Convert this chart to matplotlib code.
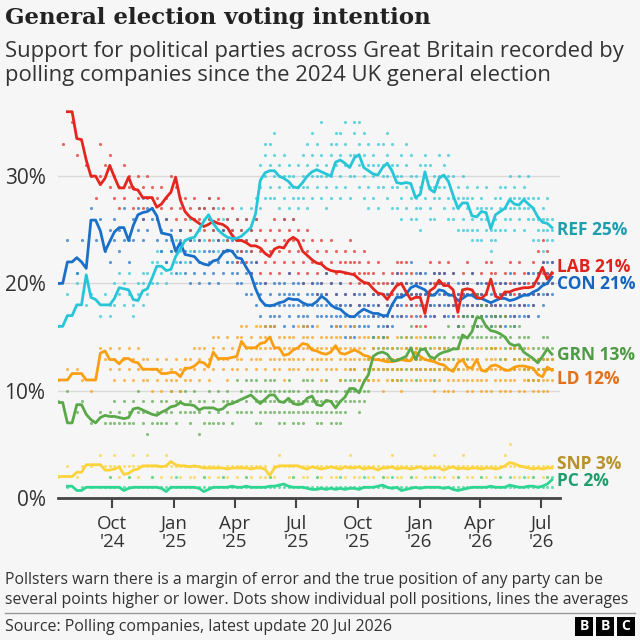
import matplotlib
matplotlib.use("Agg")
import matplotlib.pyplot as plt
import matplotlib.transforms as mtransforms
from matplotlib.patches import Rectangle
from matplotlib.lines import Line2D
import numpy as np
import pandas as pd

# ----------------
# Data (weekly averages)
# ----------------
FIRST_WEEK = "2024-07-12"
nan = np.nan

REF = [16, 16, 17, 17, 18, 18, 20.8, 18.7, 18.5, 18,
       18, 18, 18.6, 19.6, 19.5, 19.4, 18.5, 18.4, 19.3, 19.5,
       20.5, 21.6, 21.6, 21.2, 21.3, 22.5, 23.2, 24, 24.2, 24.3,
       25, 25.8, 26.4, 25.6, 25, 24.6, 24.3, 24.2, 24.2, 24.4,
       24.8, 25.2, 26.5, 29.6, 30.3, 30.5, 30.5, 30, 29.8, 29.5,
       29, 28.9, 29.4, 30, 30.4, 30.6, 30.4, 30.2, 30, 31.3,
       31.5, 31.2, 30.8, 31.7, 32, 30.8, 30.5, 30.2, 30.1, 30.8,
       31.2, 30.5, 29.4, 29.3, 29.4, 29.3, 28, 28.3, 30.4, 28.8,
       28.5, 29.8, 30.1, 29.5, 28.2, 27, 27.5, 27.5, 26.3, 26.2,
       26.7, 26.6, 25.1, 26.4, 26.7, 27, 27.8, 27.4, 27.3, 27.8,
       27.4, 27, 26.2, 25.7, 25.6, 25.2]

LAB = [nan, nan, 36, 36, 33.5, 33.4, 31.5, 30, 30, 29.2,
       29.8, 31, 29.9, 28.9, 28.9, 29.9, 28.8, 28.7, 28, 28,
       28, 27.1, 27.4, 28, 28.5, 29.9, 27.8, 26.7, 26.2, 25.9,
       25.6, 25.3, 25.5, 25.8, 25.6, 25.5, 25.2, 24.5, 24, 24,
       23.8, 23.5, 23.5, 23.3, 22.8, 22.5, 23.2, 23.4, 23.3, 24,
       24.3, 24, 23, 22.6, 22.2, 21.9, 21.8, 21.4, 21.2, 21.1,
       21.1, 21, 20.9, 20.8, 20.4, 20.1, 20, 19.5, 19.1, 19,
       18.5, 19.2, 19.8, 20, 19.2, 18.5, 18.7, 18.7, 17.2, 19.3,
       19.6, 20.3, 19.8, 19.8, 19.4, 17.3, 19.4, 19.5, 19.4, 18.7,
       18.6, 19, 20.4, 18.8, 18.6, 19.2, 19.2, 19.4, 19.5, 19.6,
       19.6, 19.7, 20.5, 21.5, 20.4, 21]

CON = [20, 20, 22, 22, 22.4, 22, 21.4, 25.9, 25.9, 24.9,
       23, 23.9, 24.8, 25.2, 25.2, 24, 25.4, 26.4, 26.6, 26.7,
       27, 26.3, 24.7, 24.6, 24.5, 23, 23.8, 22.7, 22.6, 22.5,
       22, 21.8, 21.7, 22.1, 22.2, 22.8, 23.1, 23, 22.4, 22.3,
       21.5, 20.8, 19.5, 18.5, 18, 17.9, 18, 18.2, 18.3, 18.6,
       18.5, 18.5, 18.2, 18, 18, 18.3, 18.8, 18.5, 18, 17.7,
       17.6, 17.2, 16.9, 16.9, 17.3, 17.6, 17.4, 17.2, 17.2, 17,
       17, 18, 18.7, 18.7, 19, 19.6, 19.8, 19.6, 19.4, 18.9,
       18.9, 19.4, 19.3, 18.9, 18.9, 18.4, 18.6, 18.9, 18.9, 18.6,
       18.6, 18.4, 18.2, 18.4, 18.6, 18.6, 18.4, 18.5, 18.7, 18.9,
       18.9, 19.2, 19.4, 19.8, 20, 20.6]

GRN = [8.9, 8.9, 7, 7, 8.7, 8.7, 7.8, 7.3, 7, 7.5,
       7.7, 7.6, 7.6, 7.5, 7.4, 7.5, 8.3, 8.4, 8.2, 8,
       7.8, 7.7, 8, 8.2, 8.5, 8.6, 8.9, 8.7, 8.7, 8.6,
       8.2, 8.4, 8.4, 8.4, 8.2, 8.3, 8.7, 8.8, 9, 9.2,
       9.4, 9.6, 9.2, 8.8, 9.2, 9.6, 9.6, 9, 8.9, 9.3,
       8.8, 8.7, 8.8, 9.3, 9.5, 8.7, 8.6, 9.1, 9, 8.4,
       9, 9.4, 10.2, 10.2, 9.8, 10.8, 11.5, 13.2, 13.5, 13.6,
       13.4, 12.8, 12.8, 13, 13.2, 14, 12.9, 13.8, 13.9, 13.2,
       13, 13.4, 13.6, 13.7, 13.9, 13.9, 15.2, 14.9, 15.5, 16.8,
       16.8, 16, 15.6, 15.5, 15.3, 15, 14.4, 14.2, 14.3, 13.6,
       13.3, 13, 12.6, 13.2, 13.9, 13.4]

LD = [11, 11, 11, 11.6, 11.6, 11.6, 11, 11, 11, 13.5,
      13.7, 12.9, 12.9, 12.5, 13, 13, 12.7, 12.6, 12, 12,
      12, 12, 11.6, 11.6, 11.7, 11.7, 11.3, 12.1, 12.1, 12.3,
      12.7, 12.6, 12.2, 13.6, 13, 13, 13, 13.1, 13.2, 14.6,
      14, 14, 14, 14.4, 14.5, 15, 14, 14, 13.3, 13.4,
      13.8, 14, 14.4, 14.3, 13.8, 13.7, 13.5, 13.4, 13.6, 14.2,
      13.5, 13.4, 13.6, 13.8, 13.6, 13.3, 13.2, 12.9, 12.9, 12.8,
      12.7, 12.7, 12.8, 12.9, 12.8, 12.8, 13.6, 13.2, 12.9, 12.8,
      12.7, 12.5, 12.4, 12, 11.8, 12.6, 12.9, 12.2, 12.1, 12.9,
      11.9, 11.8, 12.3, 12.4, 12.2, 11.9, 11.9, 12.2, 12.3, 12.3,
      12.2, 12.1, 11.5, 11.3, 12.2, 11.9]

SNP = [2, 2, 2, 2, 2.4, 2.4, 3.1, 3.1, 3.1, 3.1,
       2.6, 2.6, 2.7, 2.9, 2.2, 2.3, 2.6, 2.7, 3, 3,
       3, 3, 2.9, 3, 3.4, 3.1, 3, 3, 2.9, 3,
       2.9, 2.8, 2.8, 2.8, 2.8, 2.8, 2.7, 2.8, 2.8, 2.8,
       2.8, 2.7, 2.8, 2.8, 2.7, 2.1, 2.8, 3, 3, 3,
       3, 3, 2.8, 2.7, 2.9, 2.8, 2.7, 2.8, 2.9, 2.8,
       2.7, 2.9, 2.8, 2.8, 2.9, 2.7, 2.8, 2.8, 2.6, 2.8,
       2.8, 2.9, 2.7, 2.8, 2.8, 2.7, 2.8, 2.9, 2.7, 2.8,
       2.8, 2.8, 2.6, 2.8, 2.9, 2.7, 2.8, 2.7, 2.8, 2.8,
       2.7, 2.8, 2.8, 2.7, 2.8, 3, 3.3, 3.2, 3, 2.9,
       2.8, 2.7, 2.8, 2.7, 2.8, 2.8]

PC = [nan, nan, 1.1, 1.1, 0.7, 0.7, 1, 1, 1, 1,
      1, 1, 1, 1, 0.7, 0.9, 1, 1, 1, 1,
      1, 1, 0.9, 0.6, 1, 1, 1, 1, 1, 1,
      0.9, 0.6, 0.8, 1, 1, 1, 1, 1.1, 1, 1,
      1.1, 1, 1, 1, 1, 1.1, 1.1, 1.2, 1.3, 1.1,
      1, 1, 1, 0.9, 0.8, 0.8, 0.9, 0.8, 0.9, 0.8,
      0.9, 0.8, 0.9, 0.9, 0.8, 1, 1, 1, 1.1, 1.2,
      1, 0.9, 1, 0.7, 0.8, 0.9, 1, 0.9, 1, 1,
      1, 1, 0.9, 1, 0.8, 0.7, 0.8, 0.9, 1, 1,
      1, 1, 1.1, 1, 1, 1, 1.2, 1.1, 1, 1,
      1.1, 1.1, 1, 1.1, 1.3, 1.7]

# ----------------
# Individual polls, grouped by week
# ----------------
REF_POLLS = [
    "16", "", "19", "", "21 20", "", "18", "19", "", "17",
    "19", "18 17", "20 18", "21 19", "20 18", "21 19", "18 17", "19 20", "20 18 21", "19 21",
    "20 22", "22 20 23", "21 23", "22 20", "21 23 24", "22 24", "23 25 21", "24 22", "25 23 26", "24 26",
    "25 23 27", "26 24 27", "26 28", "25 27 24", "25 23 27", "24 26", "24 22 26", "25 23", "24 26 22", "25 23 27",
    "24 26", "25 27 23", "26 28 24", "29 31 27", "30 32 28 33", "31 29 33 28", "30 32 28 34", "29 31 27 30", "30 28 32 26", "29 31 27 30",
    "28 30 26 29", "29 31 27 28", "30 28 32 29", "31 29 33 27", "30 32 28 34", "31 29 33 30", "30 32 28 35", "29 31 27 30", "30 32 28 33", "31 33 29 34",
    "32 30 34 28", "31 33 29 35", "30 32 28 31", "32 30 34 35", "31 33 29 35", "30 32 28 34", "31 29 33 27", "30 32 28 31", "29 31 27 33", "31 29 33 30",
    "30 32 28 34", "31 29 33 27", "29 31 27 30", "30 28 32 26", "29 31 27 33", "28 30 26 32", "28 30 26 27", "29 27 31 25", "30 32 28 31", "29 27 31 26",
    "28 30 26 29", "30 32 28 29", "29 31 27 30", "30 28 32 26", "28 30 26 27", "27 29 25 28", "28 26 30 25", "27 29 25 28", "26 28 24 25", "27 25 29 24",
    "26 28 24 27", "27 25 29 26", "25 27 23 24", "26 28 24 25", "27 25 29 28", "27 29 25 26", "28 30 26 27", "27 29 25 28", "28 26 30 27", "27 29 25 28",
    "28 26 30 27", "26 28 24 27", "26 28 24 25", "25 27 23 26", "26 24 28 25", "25 24 26",
]

LAB_POLLS = [
    "", "33", "", "35", "32", "", "31", "30", "28", "33 30",
    "31", "32 29", "30 28", "29 27", "31 28", "30 29", "27 29", "28 30", "27 29 26", "28 30",
    "27 29", "26 28", "27 29", "28 26", "30 27", "29 26", "27 25 28", "26 28", "25 27 24", "26 28",
    "24 26 27", "25 27", "26 24 28", "25 27", "26 24 28", "25 27 23", "24 26", "25 23 27", "24 22 26", "23 25",
    "24 22 26", "23 25 21", "24 22 26", "23 21 25", "22 24 20", "23 21 25", "22 24 26", "23 21 25", "24 22 26", "23 25 21",
    "24 22 26", "23 25 21", "22 24 20", "23 21 25", "22 20 24", "21 23 19", "22 20 24", "21 23 19", "20 22 24", "21 19 23",
    "22 20 18", "21 23 19 22", "20 22 18 24", "21 19 23 22", "20 22 18 21", "19 21 23 20", "20 18 22 21", "19 21 17 20", "18 20 22 19", "19 17 21 20",
    "18 20 16 19", "19 21 17 20", "20 18 22 21", "19 21 17 22", "18 20 22 19", "19 17 21 18", "18 20 16 19", "19 17 21 20", "17 19 16 18", "20 18 22 19",
    "19 21 17 20", "20 22 18 21", "19 21 17 20", "20 18 22 19", "19 21 17 18", "17 19 16 18", "19 21 17 20", "20 18 22 19", "19 17 21 18", "18 20 16 19",
    "19 17 21 18", "18 20 22 19", "20 22 18 21", "19 17 21 18", "18 20 16 19", "19 21 17 20", "20 18 22 19", "19 17 21 20", "18 20 22 19", "20 18 21 19",
    "19 21 17 20", "20 18 22 19", "21 19 23 20", "22 20 24 21", "21 19 23 20", "21 20 22",
]

CON_POLLS = [
    "20", "", "24", "", "21", "24", "", "27", "24", "26",
    "23", "25 22", "26 24", "25 23", "27 24", "24 22", "26 24", "27 25", "26 28 24", "27 25",
    "28 26", "26 24", "25 23", "24 26 22", "25 23", "23 21", "24 22 25", "23 21", "22 24 20", "23 21",
    "22 20 24", "21 23", "22 20 23", "21 23", "22 20 24", "23 21 25", "23 22", "22 24 21", "23 21 20", "22 20 24",
    "21 23 19", "21 19 22", "20 18 22", "19 17 20", "18 16 20", "17 19 16 18", "18 20 16 17", "19 17 20 18", "18 16 20 19", "19 17 21 18",
    "18 20 16 19", "19 17 20 18", "18 16 20 17", "17 19 16 18", "18 20 16 19", "19 17 20 18", "18 20 17 19", "19 17 21 18", "18 16 20 17", "17 19 16 18",
    "18 16 20 17", "17 19 15 18", "16 18 15 17", "17 15 19 16", "18 16 19 17", "17 19 16 18", "18 16 20 17", "17 15 19 18", "16 18 19 17", "17 15 19 16",
    "18 16 19 17", "18 20 16 17", "19 17 21 18", "18 20 17 19", "19 21 17 20", "20 18 22 19", "19 21 17 20", "20 18 21 19", "19 17 21 20", "18 20 17 19",
    "19 17 21 18", "20 18 21 19", "19 21 17 18", "18 20 17 19", "19 17 21 18", "18 16 20 19", "19 17 20 18", "18 20 17 19", "19 17 21 18", "18 20 16 19",
    "19 17 20 18", "18 16 20 17", "17 19 16 18", "18 20 17 19", "19 17 20 18", "18 16 20 19", "19 17 21 18", "18 20 16 17", "19 17 20 18", "18 20 17 19",
    "19 21 17 18", "20 18 21 19", "19 21 17 20", "20 18 22 19", "21 19 22 20", "20 22 19",
]

GRN_POLLS = [
    "9", "", "10", "", "8", "9", "", "7", "", "8",
    "7", "8 7", "7 9", "8 7", "7 9", "7 8", "9 7", "8 10", "7 9 8", "8 6",
    "7 9", "8 7", "7 9", "9 7 8", "8 10", "9 7", "9 8 10", "8 10", "9 7 8", "8 10",
    "8 6 9", "9 7", "8 10 7", "7 9", "8 10 7", "9 7", "8 10 9", "9 7", "9 11 8", "10 8",
    "9 11 8", "10 8 11", "9 11 7 10", "9 7 10 8", "9 11 8 10", "10 8 11 9", "9 11 8 10", "9 7 10 8", "8 10 7 9", "9 11 8 10",
    "9 7 10 8", "8 10 7 9", "9 7 11 8", "9 11 8 10", "10 8 11 9", "9 7 10 8", "8 10 7 9", "9 11 8 10", "9 7 10 8", "8 10 7 9",
    "9 7 11 8", "10 8 11 9", "10 12 9 11", "11 9 12 10", "10 8 11 9", "11 9 12 10", "11 13 10 12", "13 15 12 14", "14 12 15 13", "13 15 12 14",
    "14 12 15 13", "13 11 14 12", "12 14 11 13", "13 11 15 12", "14 12 15 13", "14 16 12 15", "13 11 14 12", "14 12 16 13", "13 15 12 14", "14 12 15 13",
    "13 11 15 12", "14 12 15 13", "13 15 12 14", "14 12 16 13", "13 15 12 14", "14 16 12 15", "15 17 13 16", "15 13 17 14", "16 14 17 15", "17 15 19 16",
    "16 18 15 17", "16 14 18 15", "15 17 14 16", "16 14 17 15", "15 17 13 16", "15 13 17 14", "14 16 12 15", "14 12 16 13", "15 13 16 14", "13 15 12 14",
    "13 11 15 12", "12 14 11 13", "13 11 14 12", "13 15 12 14", "14 12 15 13", "13 14 12",
]

LD_POLLS = [
    "11", "", "12", "", "12", "11", "", "10", "", "14",
    "13", "14 12", "13 11", "14 12", "13 11", "12 14", "13 11", "12 14", "12 11 13", "11 13",
    "12 10", "13 11 12", "12 10", "11 13", "12 10 11", "11 13", "12 10", "12 13 11", "11 13", "12 14",
    "13 11 14", "12 14", "13 11", "14 12 15", "13 15", "12 14 13", "13 11 15", "14 12", "13 15 12", "15 13 16",
    "14 12 16", "13 15 14", "14 12 16 13", "15 13 16 14", "14 16 12 15", "15 13 16 14", "14 12 16 13", "13 15 12 14", "13 11 15 14", "14 12 15 13",
    "13 15 12 14", "14 16 12 13", "15 13 16 14", "14 12 16 15", "13 15 12 14", "14 12 16 13", "13 15 11 14", "14 12 15 13", "13 15 12 14", "14 16 12 15",
    "13 15 11 14", "14 12 16 13", "13 15 12 14", "14 12 16 13", "13 15 11 14", "14 12 15 13", "13 11 15 12", "12 14 11 13", "13 11 15 12", "12 14 10 13",
    "13 11 15 12", "12 14 11 13", "13 11 15 12", "12 14 10 13", "13 11 15 14", "12 14 11 13", "14 12 15 13", "13 11 15 12", "12 14 11 13", "13 11 15 12",
    "12 14 10 13", "13 11 14 12", "12 10 14 13", "11 13 10 12", "12 10 14 11", "13 11 14 12", "12 14 11 13", "12 10 14 11", "11 13 10 12", "13 11 14 12",
    "12 10 14 11", "11 13 10 12", "12 14 10 13", "13 11 14 12", "12 10 14 11", "11 13 10 12", "12 10 14 11", "13 11 14 12", "12 10 14 13", "11 13 10 12",
    "12 14 11 13", "12 10 13 11", "11 13 10 12", "11 10 13 12", "12 11 13 10", "12 11 13",
]

SNP_POLLS = [
    "2", "", "3", "", "2", "3", "", "3", "", "4",
    "3", "3 2", "4 3", "2 3", "3", "2 3", "3 4", "2 3", "3", "4 3",
    "3 2", "3", "2 3", "4 3", "3 2", "3", "2 3", "3", "3 2", "2 3",
    "3", "3 2", "2 3", "3", "3 2", "2", "3 2", "3", "2 3", "3",
    "3 2", "2 3", "3", "3 2", "2 3", "2", "3 2", "3 4", "3", "2 3",
    "3 2", "3", "2 3", "3 2", "3", "2 3", "3 2", "3", "2 3", "3 2",
    "3", "2 3", "3 4", "3 2", "2 3", "3", "3 2", "2 3", "3", "3 2",
    "2 3", "3 4", "3 2", "2 3", "3", "3 2", "2 3", "3", "3 2", "2 3",
    "3 4", "3 2", "2 3", "3", "3 2", "2 3", "3 4", "3 2", "2 3", "3",
    "3 2", "2 3", "3", "3 2", "2 3", "3 4", "5 3", "3 2", "2 3", "3",
    "3 2", "2 3", "3", "3 2", "2 3", "3",
]

PC_POLLS = [
    "", "", "1", "", "0", "1", "", "1", "", "1",
    "1", "1 2", "1", "0 1", "1", "1 2", "1", "1", "0 1", "1",
    "1 2", "1", "1", "0 1", "1", "1 2", "1", "1", "0 1", "1",
    "1", "1 2", "0 1", "1", "1", "1 2", "1", "0 1", "1", "1",
    "1 2", "1", "0 1", "1", "1", "1 2", "1", "1", "0 1", "1",
    "1 2", "1", "1", "0 1", "1", "1 2", "1", "0 1", "1", "1",
    "1 2", "1", "0 1", "1", "1", "1 2", "1", "1", "0 1", "1 2",
    "1", "1 2", "0 1", "1", "1", "1 2", "1", "1", "0 1", "1",
    "1 2", "1", "1", "0 1", "1", "1 2", "1", "0 1", "1", "1",
    "1 2", "1", "1", "0 1", "1 2", "1", "1 2", "1", "0 1", "1 2",
    "1", "1 2", "1", "0 1", "1 2", "2 1",
]

PARTIES = ["REF", "LAB", "CON", "GRN", "LD", "SNP", "PC"]
LATEST = ["25%", "21%", "21%", "13%", "12%", "3%", "2%"]

# ----------------
# Style
# ----------------
BG = "#f6f6f6"
LINE_COLORS = ["#26c6d8", "#e4261f", "#1a6fc9", "#5aa84a", "#fa9f12", "#fbd33a", "#2fd592"]
LABEL_COLORS = ["#1f9fae", "#dd231c", "#1565bf", "#4e9a46", "#e2701c", "#b8912a", "#1f9e6d"]
LABEL_Y = [25.0, 21.5, 19.9, 13.3, 11.1, 3.2, 1.6]
SANS = ["Open Sans", "DejaVu Sans"]
TEXT = "#333333"

plt.rcParams["font.family"] = SANS

weeks = pd.date_range(FIRST_WEEK, periods=len(REF), freq="7D")
lines = [REF, LAB, CON, GRN, LD, SNP, PC]
polls = [REF_POLLS, LAB_POLLS, CON_POLLS, GRN_POLLS, LD_POLLS, SNP_POLLS, PC_POLLS]

fig = plt.figure(figsize=(6.4, 6.4), dpi=100)
fig.patch.set_facecolor(BG)
ax = fig.add_axes([58 / 640, 142 / 640, 502 / 640, 397 / 640])
ax.set_facecolor(BG)

# dots
for groups, color in zip(polls, LINE_COLORS):
    px, py = [], []
    for day, grp in zip(weeks, groups):
        for v in grp.split():
            px.append(day)
            py.append(int(v))
    ax.scatter(px, py, s=5, color=color, alpha=0.7, linewidths=0, zorder=2)

# average lines (small parties first, big ones on top)
for vals, color in reversed(list(zip(lines, LINE_COLORS))):
    ax.plot(weeks, vals, color=color, lw=2.0, zorder=3, solid_joinstyle="round")

# labels at the end of the lines
trans = mtransforms.blended_transform_factory(ax.transAxes, ax.transData)
for name, val, y, c in zip(PARTIES, LATEST, LABEL_Y, LABEL_COLORS):
    ax.text(0.994, y, f"{name} {val}", transform=trans, color=c, fontsize=12.5,
            fontweight="bold", va="center", ha="left", clip_on=False)

# axes
ax.set_xlim(pd.Timestamp("2024-07-12"), pd.Timestamp("2026-07-29"))
ax.set_ylim(0, 37)
ax.set_yticks([0, 10, 20, 30])
ax.set_yticklabels(["0%", "10%", "20%", "30%"])
ax.yaxis.grid(True, color="#d9d9d9", lw=1)
ax.set_axisbelow(True)
tick_dates = pd.to_datetime(["2024-10-01", "2025-01-01", "2025-04-01", "2025-07-01",
                             "2025-10-01", "2026-01-01", "2026-04-01", "2026-07-01"])
ax.set_xticks(tick_dates)
ax.set_xticklabels([d.strftime("%b") + "\n'" + d.strftime("%y") for d in tick_dates])
for s in ["top", "right", "left"]:
    ax.spines[s].set_visible(False)
ax.spines["bottom"].set_color("#444444")
ax.spines["bottom"].set_linewidth(2)
ax.tick_params(axis="x", length=7, width=1.5, color="#444444", labelsize=13.5,
               labelcolor=TEXT, pad=5)
ax.tick_params(axis="y", length=0, labelsize=15, labelcolor=TEXT, pad=9)
for lab in ax.get_xticklabels():
    lab.set_linespacing(1.05)

# ----------------
# Titles and footer
# ----------------
fig.text(5 / 640, 1 - 18 / 640, "General election voting intention",
         fontsize=16.5, fontweight="bold", family=["DejaVu Serif"], color="#222222",
         va="center", ha="left")
fig.text(5 / 640, 1 - 52 / 640,
         "Support for political parties across Great Britain recorded by",
         fontsize=15.8, color=TEXT, va="center", ha="left")
fig.text(5 / 640, 1 - 75 / 640,
         "polling companies since the 2024 UK general election",
         fontsize=15.8, color=TEXT, va="center", ha="left")
fig.text(5 / 640, 1 - 580 / 640,
         "Pollsters warn there is a margin of error and the true position of any party can be",
         fontsize=11.3, color=TEXT, va="center", ha="left")
fig.text(5 / 640, 1 - 600 / 640,
         "several points higher or lower. Dots show individual poll positions, lines the averages",
         fontsize=11.3, color=TEXT, va="center", ha="left")
fig.add_artist(Line2D([5 / 640, 635 / 640], [1 - 613 / 640, 1 - 613 / 640],
                      color="#9a9a9a", lw=1))
fig.text(5 / 640, 1 - 627 / 640, "Source: Polling companies, latest update 20 Jul 2026",
         fontsize=11.5, color=TEXT, va="center", ha="left")
for i, letter in enumerate("BBC"):
    x0 = (575 + i * 21) / 640
    fig.add_artist(Rectangle((x0, 1 - 636 / 640), 18 / 640, 19 / 640,
                             facecolor="black", edgecolor="none"))
    fig.text(x0 + 9 / 640, 1 - 626.5 / 640, letter, color="white", fontsize=10,
             fontweight="bold", ha="center", va="center")

fig.savefig("out.png", dpi=100, facecolor=BG)
